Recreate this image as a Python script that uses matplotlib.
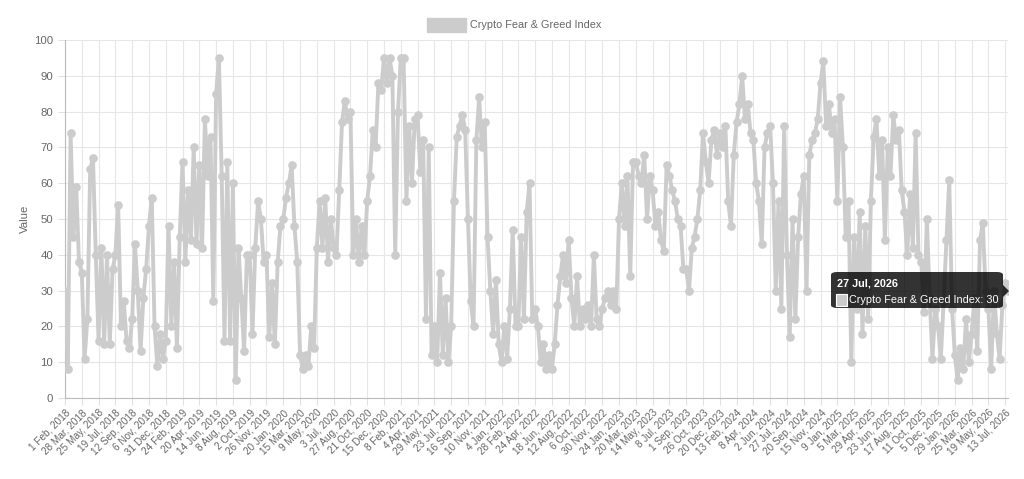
import numpy as np
import matplotlib.pyplot as plt
from matplotlib.patches import FancyBboxPatch, Polygon, Rectangle

plt.rcParams['font.family'] = ['Liberation Sans', 'DejaVu Sans']

# oznake na osi x (vsaka 55. dan)
oznake = ["1 Feb, 2018", "28 Mar, 2018", "25 May, 2018", "19 Jul, 2018", "12 Sep, 2018",
          "6 Nov, 2018", "31 Dec, 2018", "24 Feb, 2019", "20 Apr, 2019", "14 Jun, 2019",
          "8 Aug, 2019", "2 Oct, 2019", "26 Nov, 2019", "20 Jan, 2020", "15 Mar, 2020",
          "9 May, 2020", "3 Jul, 2020", "27 Aug, 2020", "21 Oct, 2020", "15 Dec, 2020",
          "8 Feb, 2021", "4 Apr, 2021", "29 May, 2021", "23 Jul, 2021", "16 Sep, 2021",
          "10 Nov, 2021", "4 Jan, 2022", "28 Feb, 2022", "24 Apr, 2022", "18 Jun, 2022",
          "12 Aug, 2022", "6 Oct, 2022", "30 Nov, 2022", "24 Jan, 2023", "20 Mar, 2023",
          "14 May, 2023", "8 Jul, 2023", "1 Sep, 2023", "26 Oct, 2023", "20 Dec, 2023",
          "13 Feb, 2024", "8 Apr, 2024", "2 Jun, 2024", "27 Jul, 2024", "20 Sep, 2024",
          "15 Nov, 2024", "9 Jan, 2025", "5 Mar, 2025", "29 Apr, 2025", "23 Jun, 2025",
          "17 Aug, 2025", "11 Oct, 2025", "5 Dec, 2025", "29 Jan, 2026", "25 Mar, 2026",
          "19 May, 2026", "13 Jul, 2026"]

# vrednosti indeksa (6 vzorcev na vsak razmik med oznakami)
v_2018 = [30, 8, 74, 45, 59, 38,  35, 11, 22, 64, 67, 40,  16, 42, 15, 40, 15, 36,
          40, 54, 20, 27, 16, 14,  22, 43, 30, 13, 28, 36,  48, 56, 20, 9, 18, 11]
v_2019 = [16, 48, 20, 38, 14, 45,  66, 38, 58, 44, 70, 43,  65, 42, 78, 62, 73, 27,
          85, 95, 62, 16, 66, 16,  60, 5, 42, 28, 13, 40,  40, 18, 42, 55, 50, 38,
          40, 17, 32, 15, 38, 48]
v_2020 = [50, 56, 60, 65, 48, 38,  12, 8, 12, 9, 20, 14,  42, 55, 42, 56, 38, 50,
          42, 40, 58, 77, 83, 78,  80, 40, 50, 38, 48, 40,  55, 62, 75, 70, 88, 86,
          95, 88, 95, 90, 40, 80]
v_2021 = [95, 95, 55, 76, 60, 78,  79, 63, 72, 22, 70, 12,  20, 10, 35, 12, 28, 10,
          20, 55, 73, 76, 79, 75,  50, 27, 20, 72, 84, 70,  77, 45, 30, 18, 33, 15]
v_2022 = [10, 20, 11, 25, 47, 20,  20, 45, 22, 52, 60, 22,  25, 20, 10, 15, 8, 12,
          8, 15, 26, 34, 40, 32,  44, 28, 20, 34, 20, 25,  22, 26, 20, 40, 22, 20,
          25, 28, 30, 26, 30, 25]
v_2023 = [50, 60, 48, 62, 34, 66,  66, 62, 60, 68, 50, 62,  58, 48, 52, 44, 41, 65,
          62, 58, 55, 50, 48, 36,  36, 30, 42, 45, 50, 58,  74, 66, 60, 72, 75, 68,
          74, 70, 76, 55, 48, 68]
v_2024 = [77, 82, 90, 78, 82, 74,  72, 60, 55, 43, 70, 74,  76, 60, 30, 55, 25, 76,
          40, 17, 50, 22, 45, 57,  62, 30, 68, 72, 74, 78,  88, 94, 76, 82, 74, 78]
v_2025 = [55, 84, 70, 45, 55, 10,  45, 25, 52, 18, 48, 22,  55, 73, 78, 62, 72, 44,
          70, 62, 79, 72, 75, 58,  52, 40, 57, 42, 74, 40,  38, 24, 50, 28, 11, 25,
          20, 11, 27, 44, 61, 25]
v_2026 = [12, 5, 14, 8, 22, 10,  18, 28, 13, 44, 49, 30,  25, 8, 30, 18, 11, 26,
          32, 30]

vrednosti = v_2018 + v_2019 + v_2020 + v_2021 + v_2022 + v_2023 + v_2024 + v_2025 + v_2026
dnevi = np.arange(len(vrednosti)) * 55 / 6

siva = '#cccccc'
besedilo = '#666666'
fs = 7.8

fig = plt.figure(figsize=(10.24, 4.79), dpi=100)
ax = fig.add_axes([65 / 1024, 81 / 479, (1008 - 65) / 1024, (398 - 40) / 479])

ax.plot(dnevi, vrednosti, color=siva, lw=2.8, marker='o', ms=5.2,
        markerfacecolor=siva, markeredgecolor=siva, zorder=3)

ax.set_xlim(0, dnevi[-1])
ax.set_ylim(0, 100)
ax.set_yticks(range(0, 101, 10))
ax.set_xticks(np.arange(len(oznake)) * 55)
ax.set_xticklabels(oznake, rotation=45, ha='right', rotation_mode='anchor')
ax.tick_params(axis='both', colors='#e0e0e0', labelcolor=besedilo, labelsize=fs + 0.4, length=5)
ax.tick_params(axis='x', labelsize=7.2, pad=2)
ax.grid(True, color='#e6e6e6', lw=0.8)
ax.set_axisbelow(True)
for s in ['top', 'right']:
    ax.spines[s].set_visible(False)
for s in ['left', 'bottom']:
    ax.spines[s].set_color('#bbbbbb')
ax.set_ylabel('Value', color=besedilo, fontsize=fs + 0.4, labelpad=3)

# legenda
fig.patches.append(Rectangle((427 / 1024, 1 - 32 / 479), 39 / 1024, 14 / 479,
                             transform=fig.transFigure, color=siva))
fig.text(470 / 1024, 1 - 25.5 / 479, 'Crypto Fear & Greed Index', color=besedilo,
         fontsize=fs, va='center')

# tooltip
fig.patches.append(FancyBboxPatch((831 / 1024, 1 - 308 / 479), 172 / 1024, 36 / 479,
                                  boxstyle='round,pad=0,rounding_size=0.006',
                                  transform=fig.transFigure, facecolor=(0, 0, 0, 0.8),
                                  edgecolor='none', zorder=10))
fig.patches.append(Polygon([(1003 / 1024, 1 - 285 / 479), (1009 / 1024, 1 - 291 / 479),
                            (1003 / 1024, 1 - 297 / 479)], closed=True,
                           transform=fig.transFigure, facecolor=(0, 0, 0, 0.8),
                           edgecolor='none', zorder=10))
fig.text(837 / 1024, 1 - 283 / 479, '27 Jul, 2026', color='white', fontsize=fs,
         fontweight='bold', va='center', zorder=11)
fig.patches.append(Rectangle((836 / 1024, 1 - 306 / 479), 11 / 1024, 12 / 479,
                             transform=fig.transFigure, facecolor=siva,
                             edgecolor='white', lw=0.8, zorder=11))
fig.text(849 / 1024, 1 - 300 / 479, 'Crypto Fear & Greed Index: 30', color='white',
         fontsize=fs, va='center', zorder=11)

fig.savefig('out.png', dpi=100)
